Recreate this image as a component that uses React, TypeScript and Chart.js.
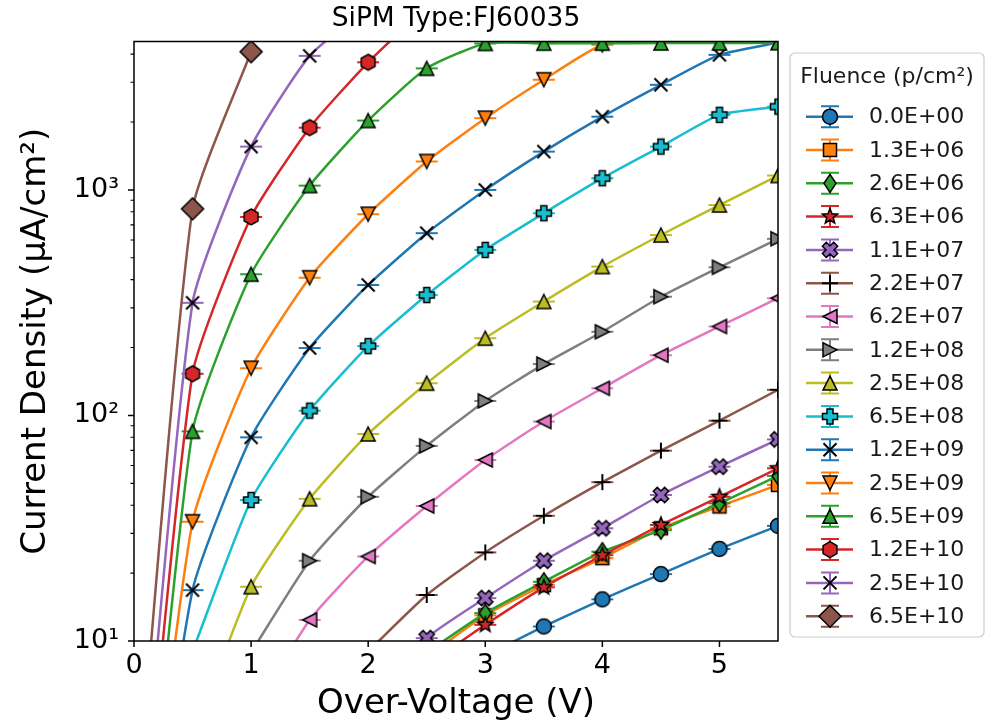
import { useEffect, useRef } from "react";
import { Chart, registerables } from "chart.js";

Chart.register(...registerables);

const FONT = "'DejaVu Sans', sans-serif";

// Over-voltage sampling points (V)
const OVER_VOLTAGE = [0, 0.5, 1.0, 1.5, 2.0, 2.5, 3.0, 3.5, 4.0, 4.5, 5.0, 5.5];

// Current density (µA/cm²) for each fluence; null where no measurement
const J_0_0E00 = [null, null, null, null, null, null, 8.6, 11.6, 15.3, 19.8, 25.6, 32.4];
const J_1_3E06 = [null, null, null, null, null, 8.5, 13.0, 17.7, 23.3, 31.6, 39.5, 49.2];
const J_2_6E06 = [null, null, null, null, null, 8.9, 13.3, 18.3, 24.9, 31.0, 40.8, 54.0];
const J_6_3E06 = [null, null, null, null, null, 7.8, 11.8, 17.3, 24.0, 32.7, 43.6, 58.3];
const J_1_1E07 = [null, null, null, null, 5.0, 10.3, 15.5, 22.7, 31.6, 44.4, 59.3, 78.3];
const J_2_2E07 = [null, null, null, null, 9.0, 16.0, 24.7, 35.9, 50.6, 69.8, 94.8, 130];
const J_6_2E07 = [null, null, 4.7, 12.4, 23.7, 39.7, 63.5, 94, 132, 185, 248, 331];
const J_1_2E08 = [null, null, 8.9, 22.7, 43.6, 73.3, 116, 169, 235, 336, 454, 607];
const J_2_5E08 = [null, 3.7, 17.4, 42.7, 82.8, 139, 220, 320, 457, 631, 857, 1158];
const J_6_5E08 = [null, 9.0, 42.2, 105, 203, 342, 542, 788, 1127, 1556, 2152, 2340];
const J_1_2E09 = [0.3, 16.8, 80, 199, 379, 643, 1000, 1479, 2113, 2925, 3970, 4500];
const J_2_5E09 = [0.32, 33.8, 162, 408, 780, 1337, 2080, 3080, 4400, 4600, 4650, 4700];
const J_6_5E09 = [0.3, 85, 423, 1045, 2030, 3460, 4460, 4470, 4470, 4480, 4480, 4490];
const J_1_2E10 = [0.46, 153, 759, 1888, 3680, 6500, null, null, null, null, null, null];
const J_2_5E10 = [0.66, 316, 1556, 3930, 6500, null, null, null, null, null, null, null];
const J_6_5E10 = [1.26, 824, 4100, null, null, null, null, null, null, null, null, null];

const SERIES = [
  J_0_0E00, J_1_3E06, J_2_6E06, J_6_3E06, J_1_1E07, J_2_2E07, J_6_2E07, J_1_2E08,
  J_2_5E08, J_6_5E08, J_1_2E09, J_2_5E09, J_6_5E09, J_1_2E10, J_2_5E10, J_6_5E10,
];

const FLUENCE_LABELS = [
  "0.0E+00", "1.3E+06", "2.6E+06", "6.3E+06", "1.1E+07", "2.2E+07", "6.2E+07", "1.2E+08",
  "2.5E+08", "6.5E+08", "1.2E+09", "2.5E+09", "6.5E+09", "1.2E+10", "2.5E+10", "6.5E+10",
];

const COLORS = [
  "#1f77b4", "#ff7f0e", "#2ca02c", "#d62728", "#9467bd", "#8c564b", "#e377c2", "#7f7f7f",
  "#bcbd22", "#17becf", "#1f77b4", "#ff7f0e", "#2ca02c", "#d62728", "#9467bd", "#8c564b",
];

const MARKERS = ["o", "s", "d", "*", "X", "+", "<", ">", "^", "P", "x", "v", "^", "h", "x", "D"];

// Axis ticks
const X_MIN = 0;
const X_MAX = 5.5;
const X_TICKS = [0, 1, 2, 3, 4, 5];
const Y_MIN = 10;
const Y_MAX = 4550;
const Y_MAJOR = [10, 100, 1000];
const Y_MAJOR_LABELS: Record<number, string> = { 10: "10¹", 100: "10²", 1000: "10³" };
const Y_MINOR = [20, 30, 40, 50, 60, 70, 80, 90, 200, 300, 400, 500, 600, 700, 800, 900, 2000, 3000, 4000];

const TITLE = "SiPM Type:FJ60035";
const X_TITLE = "Over-Voltage (V)";
const Y_TITLE = "Current Density (μA/cm²)";
const LEGEND_TITLE = "Fluence (p/cm²)";

function drawMarker(ctx: CanvasRenderingContext2D, kind: string, x: number, y: number, color: string) {
  ctx.save();
  ctx.fillStyle = color;
  ctx.strokeStyle = "#000";
  ctx.lineWidth = 1.5;
  ctx.lineJoin = "miter";
  const poly = (pts: number[][]) => {
    ctx.beginPath();
    pts.forEach(([px, py], k) => (k ? ctx.lineTo(x + px, y + py) : ctx.moveTo(x + px, y + py)));
    ctx.closePath();
    ctx.fill();
    ctx.stroke();
  };
  const plus = (w: number, L: number, rot: number) => {
    const base = [
      [-w, -L], [w, -L], [w, -w], [L, -w], [L, w], [w, w],
      [w, L], [-w, L], [-w, w], [-L, w], [-L, -w], [-w, -w],
    ];
    const c = Math.cos(rot), s = Math.sin(rot);
    poly(base.map(([px, py]) => [px * c - py * s, px * s + py * c]));
  };
  switch (kind) {
    case "o":
      ctx.beginPath();
      ctx.arc(x, y, 7.5, 0, Math.PI * 2);
      ctx.fill();
      ctx.stroke();
      break;
    case "s":
      poly([[-6.5, -6.5], [6.5, -6.5], [6.5, 6.5], [-6.5, 6.5]]);
      break;
    case "d":
      poly([[0, -9], [6, 0], [0, 9], [-6, 0]]);
      break;
    case "*": {
      const pts: number[][] = [];
      for (let k = 0; k < 10; k++) {
        const r = k % 2 === 0 ? 8 : 3.4;
        const a = -Math.PI / 2 + (k * Math.PI) / 5;
        pts.push([r * Math.cos(a), r * Math.sin(a)]);
      }
      poly(pts);
      break;
    }
    case "X":
      plus(2.8, 8, Math.PI / 4);
      break;
    case "P":
      plus(3, 7.5, 0);
      break;
    case "+":
      ctx.lineWidth = 2;
      ctx.beginPath();
      ctx.moveTo(x - 8, y);
      ctx.lineTo(x + 8, y);
      ctx.moveTo(x, y - 8);
      ctx.lineTo(x, y + 8);
      ctx.stroke();
      break;
    case "x":
      ctx.lineWidth = 2;
      ctx.beginPath();
      ctx.moveTo(x - 6.5, y - 6.5);
      ctx.lineTo(x + 6.5, y + 6.5);
      ctx.moveTo(x + 6.5, y - 6.5);
      ctx.lineTo(x - 6.5, y + 6.5);
      ctx.stroke();
      break;
    case "^":
      poly([[0, -7], [7, 7], [-7, 7]]);
      break;
    case "v":
      poly([[0, 7], [7, -7], [-7, -7]]);
      break;
    case "<":
      poly([[-7, 0], [7, -7], [7, 7]]);
      break;
    case ">":
      poly([[7, 0], [-7, -7], [-7, 7]]);
      break;
    case "h": {
      const pts: number[][] = [];
      for (let k = 0; k < 6; k++) {
        const a = -Math.PI / 2 + (k * Math.PI) / 3;
        pts.push([8 * Math.cos(a), 8 * Math.sin(a)]);
      }
      poly(pts);
      break;
    }
    case "D":
      poly([[0, -11], [11, 0], [0, 11], [-11, 0]]);
      break;
  }
  ctx.restore();
}

// Point image: error-bar caps (tiny error) under the marker
function makePointImage(kind: string, color: string): HTMLCanvasElement {
  const c = document.createElement("canvas");
  c.width = 32;
  c.height = 32;
  const g = c.getContext("2d")!;
  g.strokeStyle = color;
  g.lineWidth = 2;
  g.beginPath();
  g.moveTo(5, 16);
  g.lineTo(27, 16);
  g.stroke();
  drawMarker(g, kind, 16, 16, color);
  return c;
}

const axesPlugin = {
  id: "axesFrame",
  afterDatasetsDraw(chart: any) {
    const { ctx, chartArea: a, scales } = chart;
    const xs = scales.x;
    const ys = scales.y;
    ctx.save();
    ctx.strokeStyle = "#000";
    ctx.lineWidth = 1.5;
    ctx.strokeRect(a.left, a.top, a.right - a.left, a.bottom - a.top);
    ctx.beginPath();
    X_TICKS.forEach((v) => {
      const px = xs.getPixelForValue(v);
      ctx.moveTo(px, a.bottom);
      ctx.lineTo(px, a.bottom + 6);
    });
    Y_MAJOR.forEach((v) => {
      const py = ys.getPixelForValue(v);
      ctx.moveTo(a.left - 6, py);
      ctx.lineTo(a.left, py);
    });
    ctx.stroke();
    ctx.lineWidth = 1.1;
    ctx.beginPath();
    Y_MINOR.forEach((v) => {
      const py = ys.getPixelForValue(v);
      ctx.moveTo(a.left - 3.5, py);
      ctx.lineTo(a.left, py);
    });
    ctx.stroke();
    ctx.restore();
  },
};

const legendPlugin = {
  id: "fluenceLegend",
  afterDraw(chart: any) {
    const { ctx } = chart;
    const bx = 790, by = 53, bw = 194, bh = 584, r = 5;
    ctx.save();
    ctx.beginPath();
    ctx.moveTo(bx + r, by);
    ctx.lineTo(bx + bw - r, by);
    ctx.arcTo(bx + bw, by, bx + bw, by + r, r);
    ctx.lineTo(bx + bw, by + bh - r);
    ctx.arcTo(bx + bw, by + bh, bx + bw - r, by + bh, r);
    ctx.lineTo(bx + r, by + bh);
    ctx.arcTo(bx, by + bh, bx, by + bh - r, r);
    ctx.lineTo(bx, by + r);
    ctx.arcTo(bx, by, bx + r, by, r);
    ctx.closePath();
    ctx.fillStyle = "rgba(255,255,255,0.85)";
    ctx.fill();
    ctx.strokeStyle = "#cccccc";
    ctx.lineWidth = 1.2;
    ctx.stroke();

    ctx.fillStyle = "#1a1a1a";
    ctx.font = `22px ${FONT}`;
    ctx.textAlign = "center";
    ctx.textBaseline = "middle";
    ctx.fillText(LEGEND_TITLE, bx + bw / 2, 77);

    ctx.textAlign = "left";
    chart.data.datasets.forEach((ds: any, i: number) => {
      const y = 116.7 + i * 33.3;
      const color = COLORS[i];
      ctx.strokeStyle = color;
      ctx.lineWidth = 2.5;
      ctx.beginPath();
      ctx.moveTo(806, y);
      ctx.lineTo(853, y);
      ctx.stroke();
      ctx.lineWidth = 2;
      ctx.beginPath();
      ctx.moveTo(830, y - 10.5);
      ctx.lineTo(830, y + 10.5);
      ctx.moveTo(821, y - 10.5);
      ctx.lineTo(839, y - 10.5);
      ctx.moveTo(821, y + 10.5);
      ctx.lineTo(839, y + 10.5);
      ctx.stroke();
      drawMarker(ctx, MARKERS[i], 830, y, color);
      ctx.fillStyle = "#1a1a1a";
      ctx.fillText(ds.label, 869, y + 1);
    });
    ctx.restore();
  },
};

export default function App() {
  const canvasRef = useRef<HTMLCanvasElement | null>(null);

  useEffect(() => {
    const canvas = canvasRef.current;
    if (!canvas) return;

    const datasets = FLUENCE_LABELS.map((label, i) => ({
      label,
      data: OVER_VOLTAGE.map((x, k) => ({ x, y: SERIES[i][k] })).filter((p) => p.y !== null),
      borderColor: COLORS[i],
      backgroundColor: COLORS[i],
      borderWidth: 2.5,
      pointStyle: makePointImage(MARKERS[i], COLORS[i]),
      pointRadius: 10,
      pointHoverRadius: 10,
      tension: 0.18,
      clip: 0,
      order: FLUENCE_LABELS.length - 1 - i,
    }));

    const chart = new Chart(canvas, {
      type: "line",
      data: { datasets },
      options: {
        animation: false,
        responsive: false,
        events: [],
        layout: { padding: { top: 0, right: 216, bottom: 0, left: 0 } },
        elements: { line: { capBezierPoints: false } },
        plugins: {
          legend: { display: false },
          tooltip: { enabled: false },
          title: {
            display: true,
            text: TITLE,
            fullSize: false,
            color: "#000",
            font: { family: FONT, size: 26.5, weight: "normal" },
            padding: { top: 3.5, bottom: 6.2 },
          },
        },
        scales: {
          x: {
            type: "linear",
            min: X_MIN,
            max: X_MAX,
            afterBuildTicks: (scale: any) => {
              scale.ticks = X_TICKS.map((v) => ({ value: v }));
            },
            afterFit: (scale: any) => {
              scale.height = 86;
            },
            grid: { display: false, drawTicks: false },
            border: { display: false },
            ticks: {
              autoSkip: false,
              maxRotation: 0,
              padding: 9,
              color: "#000",
              font: { family: FONT, size: 27 },
              callback: (v: any) => String(v),
            },
            title: {
              display: true,
              text: X_TITLE,
              color: "#000",
              font: { family: FONT, size: 34 },
              padding: { top: 0, bottom: 2.5 },
            },
          },
          y: {
            type: "logarithmic",
            min: Y_MIN,
            max: Y_MAX,
            afterBuildTicks: (scale: any) => {
              scale.ticks = [...Y_MAJOR, ...Y_MINOR].sort((a, b) => a - b).map((v) => ({ value: v }));
            },
            afterFit: (scale: any) => {
              scale.width = 134;
            },
            grid: { display: false, drawTicks: false },
            border: { display: false },
            ticks: {
              autoSkip: false,
              padding: 15,
              color: "#000",
              font: { family: FONT, size: 27 },
              callback: (v: any) => Y_MAJOR_LABELS[Number(v)] ?? "",
            },
            title: {
              display: true,
              text: Y_TITLE,
              color: "#000",
              font: { family: FONT, size: 34 },
              padding: { top: 15.5, bottom: 0 },
            },
          },
        },
      },
      plugins: [axesPlugin, legendPlugin],
    });

    return () => chart.destroy();
  }, []);

  return (
    <div style={{ position: "absolute", left: 0, top: 0, width: 994, height: 727, background: "#fff", overflow: "hidden" }}>
      <canvas ref={canvasRef} width={994} height={727} />
    </div>
  );
}
